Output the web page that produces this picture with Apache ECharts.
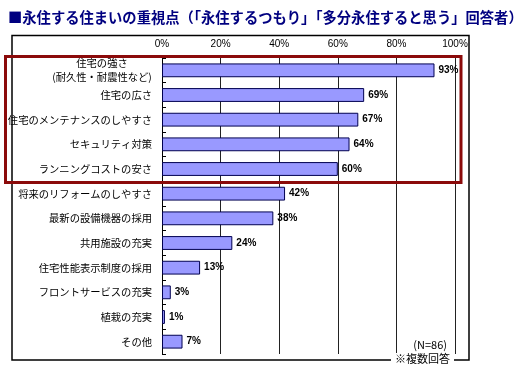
<!DOCTYPE html>
<html><head><meta charset="utf-8">
<script src="https://cdn.jsdelivr.net/npm/echarts@6/dist/echarts.min.js"></script>
<style>html,body{margin:0;padding:0;background:#fff}#c{width:530px;height:376px}</style>
</head><body><div id="c"></div>
<script>
var titleText = '■永住する住まいの重視点（「永住するつもり」「多分永住すると思う」回答者）';
var categories = ['住宅の強さ\n(耐久性・耐震性など)', '住宅の広さ', '住宅のメンテナンスのしやすさ', 'セキュリティ対策', 'ランニングコストの安さ', '将来のリフォームのしやすさ', '最新の設備機器の採用', '共用施設の充実', '住宅性能表示制度の採用', 'フロントサービスの充実', '植栽の充実', 'その他'];
var values = [93, 69, 67, 64, 60, 42, 38, 24, 13, 3, 1, 7];
var xTicks = [0, 20, 40, 60, 80, 100];
var noteN = '(N=86)';
var noteMulti = '※複数回答';

var FONT = '"Noto Sans CJK JP", "Noto Sans", sans-serif';
var chart = echarts.init(document.getElementById('c'));
chart.setOption({
  animation: false,
  backgroundColor: '#fff',
  title: {
    text: titleText, left: 3, top: 5,
    textStyle: {color: '#000080', fontSize: 14.3, fontWeight: 'bold', fontFamily: FONT}
  },
  grid: {left: 162, right: 75, top: 58, bottom: 22, containLabel: false},
  xAxis: {
    type: 'value', position: 'top', min: xTicks[0], max: xTicks[xTicks.length - 1], interval: 20,
    axisLine: {show: false}, axisTick: {show: false},
    axisLabel: {formatter: '{value}%', fontSize: 10, color: '#000', margin: 9, fontFamily: 'Arial, "Liberation Sans", sans-serif'},
    splitLine: {show: true, lineStyle: {color: '#222', width: 1}}
  },
  yAxis: {
    type: 'category', inverse: true, data: categories,
    axisLine: {show: true, lineStyle: {color: '#000', width: 1}},
    axisTick: {show: true, inside: true, length: 4, lineStyle: {color: '#000'}},
    axisLabel: {
      fontSize: 10.3, color: '#000', margin: 10, fontFamily: FONT, lineHeight: 14,
      formatter: function (v, i) {
        if (i === 0) { var p = v.split('\n'); return '{c|' + p[0] + '}\n{c|' + p[1] + '}'; }
        return v;
      },
      rich: {c: {width: 100, align: 'center', fontSize: 10.3, lineHeight: 14, fontFamily: FONT, color: '#000'}}
    }
  },
  series: [{
    type: 'bar', data: values, barWidth: '56%',
    itemStyle: {color: '#9999FF', borderColor: '#000050', borderWidth: 1},
    label: {show: true, position: 'right', distance: 4, formatter: '{c}%', fontSize: 10, fontWeight: 'bold', color: '#000', fontFamily: 'Arial, "Liberation Sans", sans-serif'}
  }],
  graphic: [
    {type: 'rect', shape: {x: 12, y: 35.5, width: 457, height: 324.5}, style: {fill: 'none', stroke: '#000', lineWidth: 1.5}, z: 10},
    {type: 'rect', shape: {x: 5.5, y: 56.5, width: 455.5, height: 126}, style: {fill: 'none', stroke: '#8B0A0A', lineWidth: 3}, z: 11},
    {type: 'text', right: 530 - 447, top: 339, style: {text: noteN, fontSize: 11, fill: '#000', fontFamily: FONT}, z: 12},
    {type: 'text', left: 391, top: 353, style: {text: noteMulti, fontSize: 11, fill: '#000', fontFamily: FONT, backgroundColor: '#fff', padding: [0, 4]}, z: 12}
  ]
});
</script></body></html>
